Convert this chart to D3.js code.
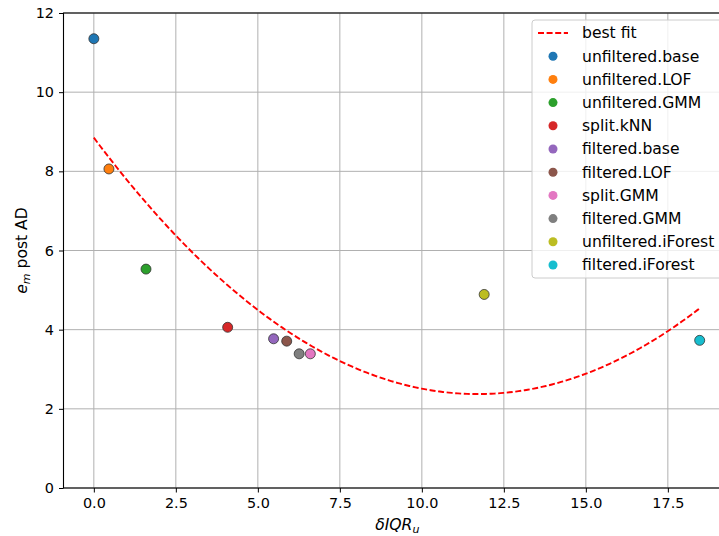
<!DOCTYPE html>
<html><head><meta charset="utf-8">
<script src="https://cdn.jsdelivr.net/npm/d3@7"></script>
<style>body{margin:0;background:#fff}svg{display:block;font-family:"DejaVu Sans",sans-serif}</style>
</head><body>
<svg id="c" width="719" height="536"></svg>
<script>
const names = ["unfiltered.base","unfiltered.LOF","unfiltered.GMM","split.kNN","filtered.base","filtered.LOF","split.GMM","filtered.GMM","unfiltered.iForest","filtered.iForest"];
const xVals = [0, 0.46, 1.59, 4.08, 5.48, 5.88, 6.60, 6.26, 11.9, 18.47];
const yVals = [11.35, 8.06, 5.53, 4.06, 3.77, 3.71, 3.39, 3.39, 4.89, 3.73];
const colors = ["#1f77b4","#ff7f0e","#2ca02c","#d62728","#9467bd","#8c564b","#e377c2","#7f7f7f","#bcbd22","#17becf"];
const fitCoeffs = [8.85, -1.107, 0.0473]; // c0 + c1 x + c2 x^2
const fitRange = [0, 18.5];
const xTicks = [0, 2.5, 5, 7.5, 10, 12.5, 15, 17.5];
const yTicks = [0, 2, 4, 6, 8, 10, 12];

const svg = d3.select("#c");
const L = 63.5, T = 13, B = 488, R = 731;
const x = d3.scaleLinear().domain([-0.925, 19.425]).range([L, R]);
const y = d3.scaleLinear().domain([0, 12]).range([B, T]);

// grid
const g = svg.append("g");
g.selectAll(".gx").data(xTicks).join("line")
  .attr("x1", d => x(d)).attr("x2", d => x(d)).attr("y1", T).attr("y2", B)
  .attr("stroke", "#b0b0b0").attr("stroke-width", 1);
g.selectAll(".gy").data(yTicks).join("line")
  .attr("x1", L).attr("x2", R).attr("y1", d => y(d)).attr("y2", d => y(d))
  .attr("stroke", "#b0b0b0").attr("stroke-width", 1);

// fit curve
const fitPts = d3.range(0, 201).map(i => {
  const xv = fitRange[0] + (fitRange[1] - fitRange[0]) * i / 200;
  return [xv, fitCoeffs[0] + fitCoeffs[1] * xv + fitCoeffs[2] * xv * xv];
});
svg.append("path").datum(fitPts)
  .attr("d", d3.line().x(d => x(d[0])).y(d => y(d[1])))
  .attr("fill", "none").attr("stroke", "#ff0000").attr("stroke-width", 1.9)
  .attr("stroke-dasharray", "6,2.6");

// points
svg.selectAll(".pt").data(names).join("circle")
  .attr("cx", (d, i) => x(xVals[i])).attr("cy", (d, i) => y(yVals[i]))
  .attr("r", 5).attr("fill", (d, i) => colors[i])
  .attr("stroke", "#333").attr("stroke-width", 0.8);

// axes
const xAxis = d3.axisBottom(x).tickValues(xTicks).tickFormat(d3.format(".1f")).tickSize(4.5).tickPadding(5);
const yAxis = d3.axisLeft(y).tickValues(yTicks).tickFormat(d3.format("d")).tickSize(4.5).tickPadding(5);
const gx = svg.append("g").attr("transform", `translate(0,${B})`).call(xAxis);
const gy = svg.append("g").attr("transform", `translate(${L},0)`).call(yAxis);
[gx, gy].forEach(a => {
  a.select(".domain").remove();
  a.selectAll("text").attr("font-size", 14.4).attr("fill", "#000").attr("font-family", "DejaVu Sans");
  a.selectAll("line").attr("stroke", "#000").attr("stroke-width", 1);
});
// spines
svg.append("rect").attr("x", L).attr("y", T).attr("width", R - L).attr("height", B - T)
  .attr("fill", "none").attr("stroke", "#000").attr("stroke-width", 1.1);

// labels
const xl = svg.append("text").attr("x", x(9.25)).attr("y", 530).attr("text-anchor", "middle")
  .attr("font-size", 15.6).attr("font-style", "italic");
xl.append("tspan").text("δIQR");
xl.append("tspan").text("u").attr("font-size", 11).attr("dy", 3);

const yl = svg.append("text").attr("transform", `translate(27,${(T + B) / 2}) rotate(-90)`)
  .attr("text-anchor", "middle").attr("font-size", 15.6);
yl.append("tspan").text("e").attr("font-style", "italic");
yl.append("tspan").text("m").attr("font-style", "italic").attr("font-size", 11).attr("dy", 3);
yl.append("tspan").text(" post AD").attr("dy", -3);

// legend
const lg = svg.append("g");
lg.append("rect").attr("x", 532).attr("y", 20).attr("width", 200).attr("height", 258)
  .attr("rx", 3).attr("fill", "#fff").attr("fill-opacity", 0.8).attr("stroke", "#cccccc").attr("stroke-width", 1);
const rowY = i => 33 + i * 23.2;
lg.append("line").attr("x1", 538).attr("x2", 568).attr("y1", rowY(0)).attr("y2", rowY(0))
  .attr("stroke", "#ff0000").attr("stroke-width", 1.9).attr("stroke-dasharray", "6,2.6");
lg.append("text").attr("x", 582).attr("y", rowY(0)).attr("dy", "0.35em").attr("font-size", 15.6).text("best fit");
lg.selectAll(".li").data(names).join("circle")
  .attr("cx", 553).attr("cy", (d, i) => rowY(i + 1)).attr("r", 4.5).attr("fill", (d, i) => colors[i]);
lg.selectAll(".lt").data(names).join("text")
  .attr("x", 582).attr("y", (d, i) => rowY(i + 1)).attr("dy", "0.35em").attr("font-size", 15.6).text(d => d);
</script>
</body></html>
